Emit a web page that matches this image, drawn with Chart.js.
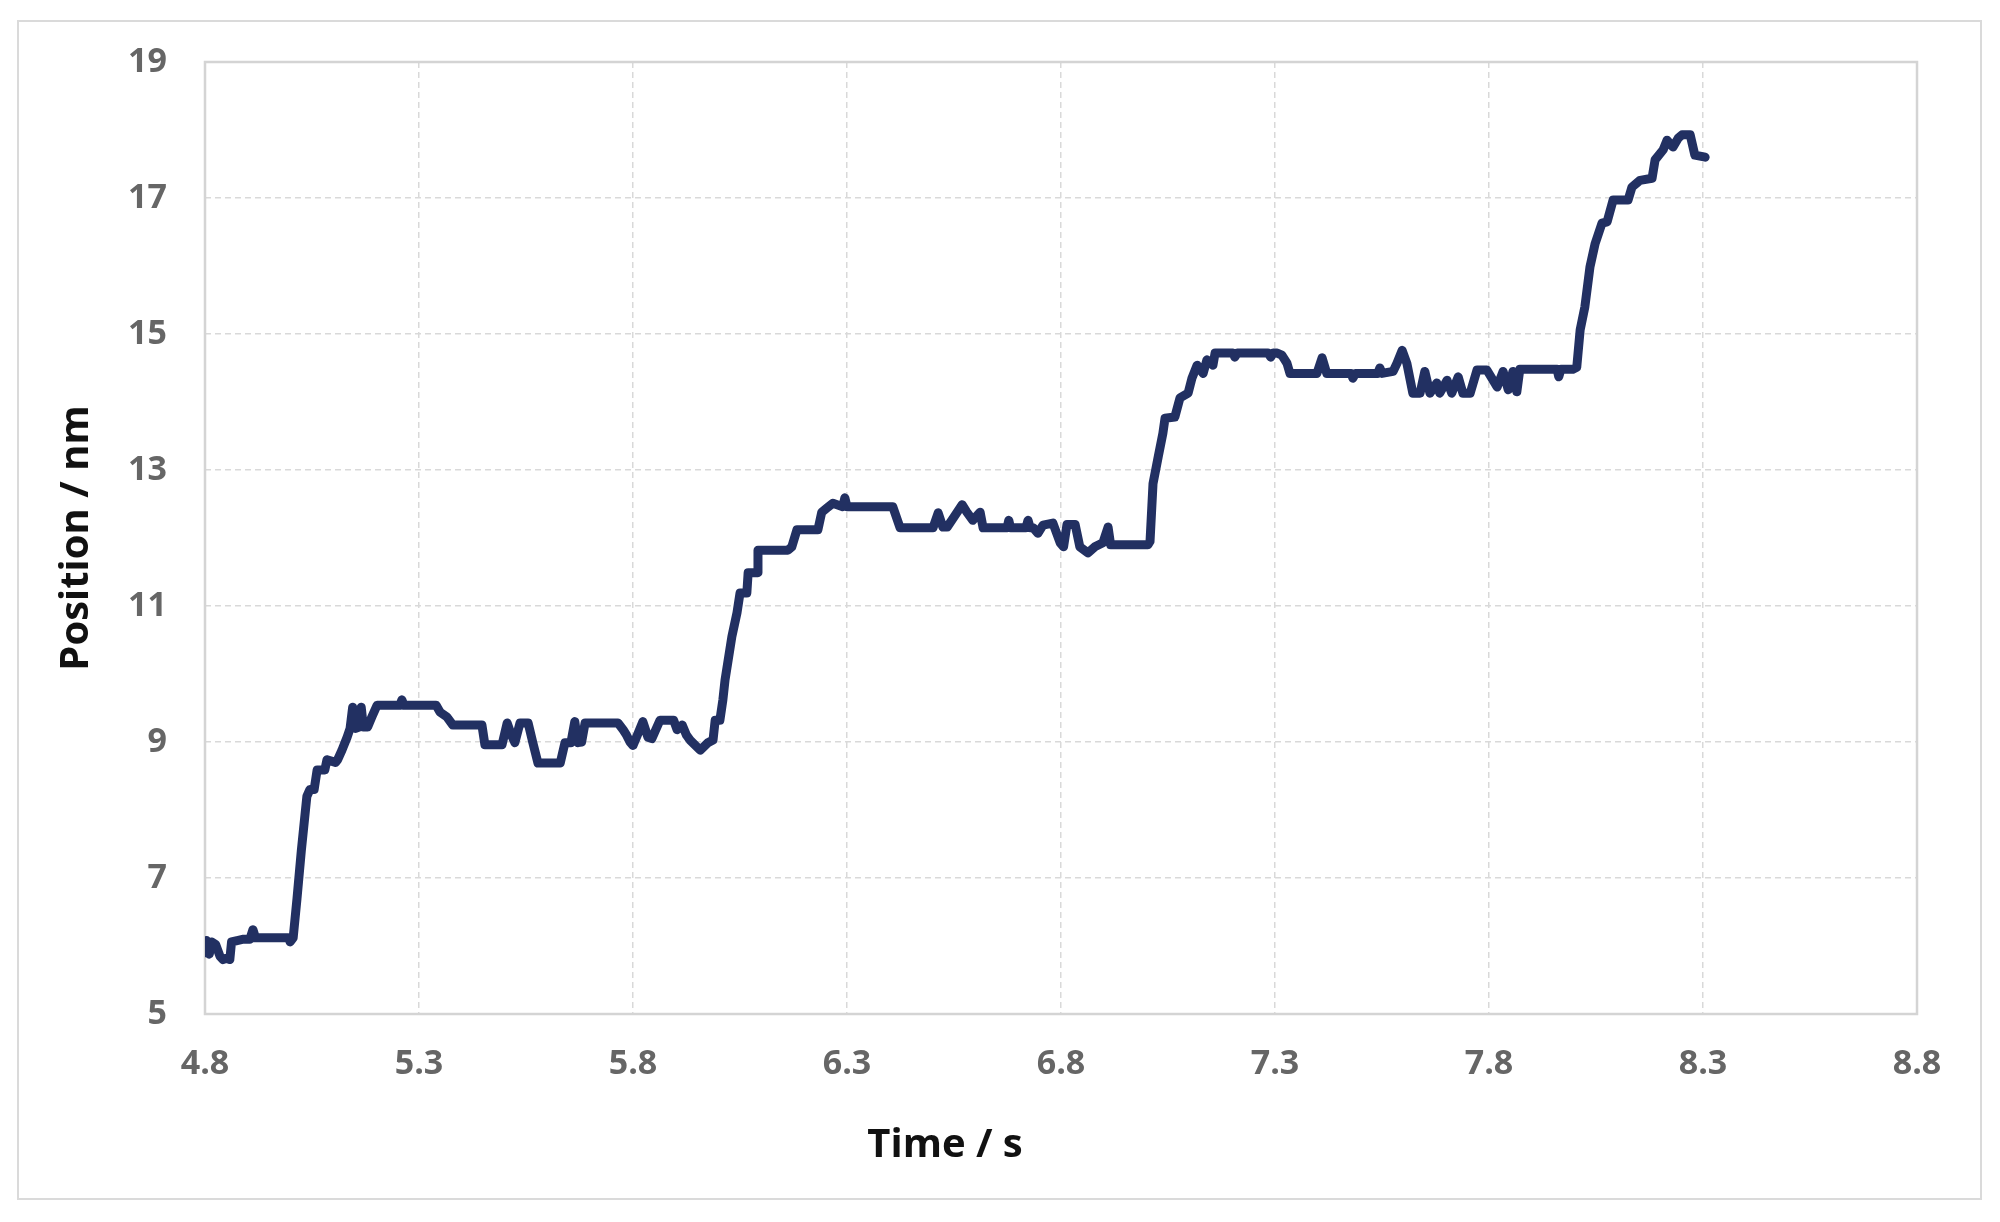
<!DOCTYPE html>
<html>
<head>
<meta charset="utf-8">
<script src="https://cdn.jsdelivr.net/npm/chart.js@4.4.1/dist/chart.umd.min.js"></script>
<style>
  html, body { margin: 0; padding: 0; background: #fff; }
  #wrap { position: relative; width: 2000px; height: 1222px; }
  #frame {
    position: absolute; left: 17px; top: 20px; width: 1965px; height: 1180px;
    border: 2px solid #dadada; box-sizing: border-box;
  }
  #chart { position: absolute; left: 0; top: 0; }
</style>
</head>
<body>
<div id="wrap">
  <div id="frame"></div>
  <canvas id="chart" width="2000" height="1222"></canvas>
</div>
<script>
// values (time in s, position in nm)
const timeS = [
  4.800, 4.803, 4.810, 4.815, 4.825, 4.835, 4.842, 4.850, 4.858, 4.862,
  4.875, 4.890, 4.905, 4.912, 4.918, 4.995, 4.999, 5.006, 5.015, 5.025,
  5.038, 5.045, 5.055, 5.062, 5.080, 5.085, 5.105, 5.110, 5.120, 5.132,
  5.139, 5.145, 5.152, 5.160, 5.165, 5.170, 5.180, 5.190, 5.202, 5.255,
  5.260, 5.265, 5.340, 5.349, 5.365, 5.379, 5.447, 5.454, 5.494, 5.506,
  5.516, 5.524, 5.536, 5.555, 5.566, 5.578, 5.630, 5.641, 5.655, 5.664,
  5.671, 5.680, 5.688, 5.765, 5.777, 5.785, 5.793, 5.800, 5.812, 5.823,
  5.835, 5.844, 5.863, 5.895, 5.903, 5.915, 5.925, 5.933, 5.957, 5.975,
  5.987, 5.992, 6.003, 6.010, 6.015, 6.031, 6.043, 6.050, 6.066, 6.069,
  6.090, 6.092, 6.162, 6.171, 6.183, 6.232, 6.241, 6.253, 6.267, 6.290,
  6.295, 6.300, 6.407, 6.424, 6.501, 6.513, 6.524, 6.534, 6.548, 6.569,
  6.580, 6.594, 6.611, 6.618, 6.674, 6.678, 6.682, 6.718, 6.723, 6.728,
  6.735, 6.746, 6.758, 6.781, 6.798, 6.806, 6.814, 6.833, 6.844, 6.863,
  6.879, 6.898, 6.910, 6.916, 7.003, 7.008, 7.015, 7.027, 7.038, 7.043,
  7.066, 7.078, 7.097, 7.106, 7.118, 7.132, 7.141, 7.155, 7.160, 7.202,
  7.206, 7.212, 7.284, 7.290, 7.296, 7.305, 7.316, 7.328, 7.335, 7.398,
  7.410, 7.421, 7.478, 7.482, 7.488, 7.540, 7.545, 7.550, 7.576, 7.585,
  7.597, 7.608, 7.622, 7.639, 7.650, 7.662, 7.678, 7.685, 7.702, 7.713,
  7.728, 7.739, 7.756, 7.772, 7.795, 7.819, 7.833, 7.845, 7.856, 7.865,
  7.872, 7.959, 7.963, 7.968, 7.996, 8.005, 8.013, 8.024, 8.036, 8.048,
  8.064, 8.076, 8.090, 8.125, 8.134, 8.153, 8.181, 8.188, 8.207, 8.216,
  8.230, 8.242, 8.251, 8.270, 8.281, 8.305
];

const positionNm = [
  5.90, 6.08, 5.88, 6.06, 6.02, 5.85, 5.80, 5.82, 5.80, 6.06,
  6.08, 6.10, 6.10, 6.24, 6.12, 6.12, 6.06, 6.12, 6.70, 7.40,
  8.20, 8.30, 8.30, 8.59, 8.59, 8.74, 8.70, 8.74, 8.88, 9.07,
  9.20, 9.51, 9.20, 9.22, 9.51, 9.22, 9.22, 9.37, 9.54, 9.54,
  9.62, 9.54, 9.54, 9.44, 9.37, 9.25, 9.25, 8.96, 8.96, 9.28,
  9.10, 8.99, 9.28, 9.28, 8.99, 8.69, 8.69, 8.99, 8.99, 9.30,
  8.99, 9.00, 9.28, 9.28, 9.18, 9.10, 9.00, 8.95, 9.13, 9.30,
  9.07, 9.05, 9.32, 9.32, 9.18, 9.25, 9.10, 9.03, 8.88, 8.99,
  9.03, 9.32, 9.32, 9.62, 9.91, 10.55, 10.90, 11.19, 11.19, 11.49,
  11.49, 11.82, 11.82, 11.87, 12.12, 12.12, 12.38, 12.44, 12.51, 12.46,
  12.59, 12.46, 12.46, 12.15, 12.15, 12.37, 12.16, 12.16, 12.29, 12.49,
  12.38, 12.26, 12.38, 12.15, 12.15, 12.26, 12.15, 12.15, 12.26, 12.15,
  12.15, 12.07, 12.19, 12.22, 11.93, 11.87, 12.20, 12.20, 11.87, 11.78,
  11.87, 11.93, 12.16, 11.90, 11.90, 11.95, 12.80, 13.19, 13.54, 13.76,
  13.78, 14.06, 14.13, 14.35, 14.54, 14.42, 14.62, 14.54, 14.72, 14.72,
  14.66, 14.72, 14.72, 14.66, 14.72, 14.72, 14.69, 14.57, 14.42, 14.42,
  14.65, 14.42, 14.42, 14.35, 14.42, 14.42, 14.50, 14.42, 14.45, 14.57,
  14.76, 14.57, 14.13, 14.13, 14.45, 14.13, 14.28, 14.13, 14.32, 14.13,
  14.37, 14.13, 14.13, 14.47, 14.47, 14.22, 14.45, 14.18, 14.45, 14.15,
  14.48, 14.48, 14.37, 14.48, 14.48, 14.51, 15.06, 15.40, 15.99, 16.33,
  16.63, 16.65, 16.97, 16.97, 17.16, 17.26, 17.29, 17.56, 17.71, 17.85,
  17.75, 17.88, 17.93, 17.93, 17.63, 17.60
];

const xTicks = [4.8, 5.3, 5.8, 6.3, 6.8, 7.3, 7.8, 8.3, 8.8];
const yTicks = [5, 7, 9, 11, 13, 15, 17, 19];

const xTitle = "Time / s";
const yTitle = "Position / nm";

const FONT = "'Open Sans', 'Noto Sans', sans-serif";
const GRID = "#d9d9d9";
const FRAME = "#d4d4d4";

// solid frame round the plot area, dashed grid inside
const plotFrame = {
  id: "plotFrame",
  beforeDatasetsDraw(chart) {
    const { ctx, chartArea: a } = chart;
    ctx.save();
    ctx.strokeStyle = FRAME;
    ctx.lineWidth = 2.5;
    ctx.setLineDash([]);
    ctx.strokeRect(a.left, a.top, a.right - a.left, a.bottom - a.top);
    ctx.restore();
  }
};

// the x title in the reference sits left of the plot centre
const offsetXTitle = {
  id: "offsetXTitle",
  afterDraw(chart) {
    const ctx = chart.ctx;
    ctx.save();
    ctx.font = `bold 40px ${FONT}`;
    ctx.fillStyle = "#111";
    ctx.textAlign = "center";
    ctx.textBaseline = "middle";
    ctx.fillText(xTitle, 945, 1146);
    ctx.restore();
  }
};

new Chart(document.getElementById("chart"), {
  type: "line",
  data: {
    datasets: [{
      data: timeS.map((t, i) => ({ x: t, y: positionNm[i] })),
      borderColor: "#223062",
      borderWidth: 9,
      borderJoinStyle: "round",
      borderCapStyle: "round",
      pointRadius: 0,
      tension: 0,
      fill: false
    }]
  },
  options: {
    responsive: false,
    animation: false,
    layout: { padding: { top: 62, right: 83, bottom: 0, left: 0 } },
    plugins: {
      legend: { display: false },
      tooltip: { enabled: false }
    },
    scales: {
      x: {
        type: "linear",
        min: 4.8,
        max: 8.8,
        afterBuildTicks: (s) => { s.ticks = xTicks.map(v => ({ value: v })); },
        afterFit: (s) => { s.height = 208; },
        grid: { color: GRID, lineWidth: 1.5, drawTicks: false },
        border: { display: false, dash: [6, 4] },
        ticks: {
          padding: 30,
          color: "#666",
          font: { family: FONT, size: 34, weight: "bold" },
          callback: (v) => Number(v).toFixed(1)
        }
      },
      y: {
        min: 5,
        max: 19,
        afterBuildTicks: (s) => { s.ticks = yTicks.map(v => ({ value: v })); },
        afterFit: (s) => { s.width = 205; },
        grid: { color: GRID, lineWidth: 1.5, drawTicks: false },
        border: { display: false, dash: [6, 4] },
        ticks: {
          padding: 38,
          color: "#666",
          font: { family: FONT, size: 34, weight: "bold" }
        },
        title: {
          display: true,
          text: yTitle,
          color: "#111",
          font: { family: FONT, size: 40, weight: "bold" },
          padding: { top: 53, bottom: 0 }
        }
      }
    }
  },
  plugins: [plotFrame, offsetXTitle]
});
</script>
</body>
</html>
